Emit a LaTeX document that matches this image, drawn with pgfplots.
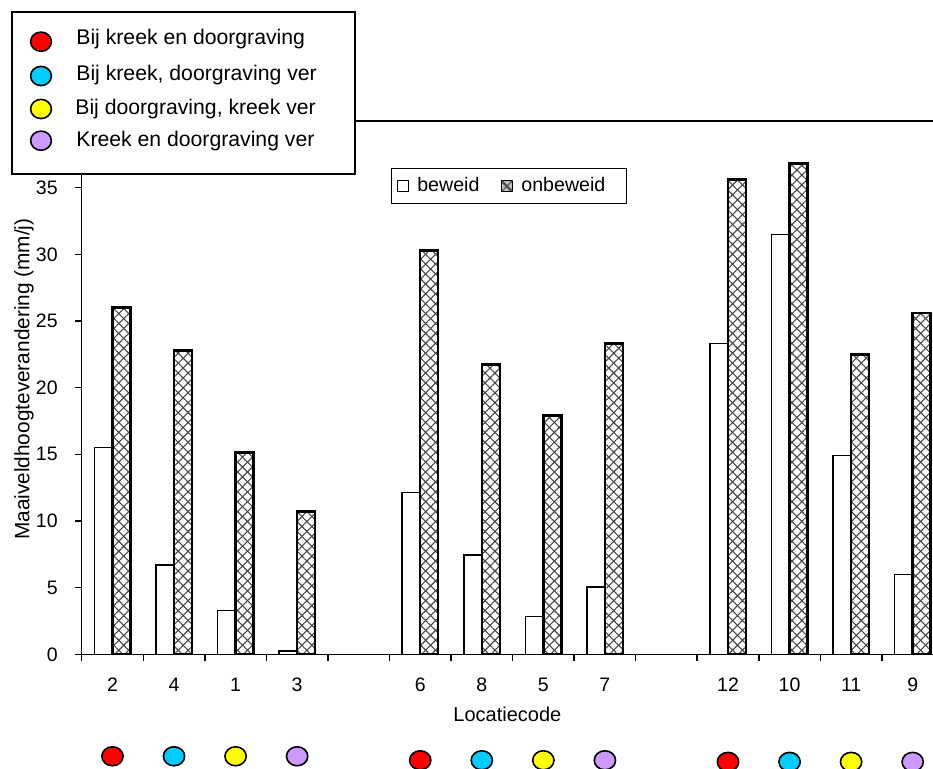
\documentclass[border=0pt]{standalone}
\usepackage{fontspec}
\setmainfont{Liberation Sans}
\usepackage{pgfplots}
\pgfplotsset{compat=1.18}
\usetikzlibrary{patterns.meta}
\definecolor{cRed}{RGB}{255,0,0}
\definecolor{cCyan}{RGB}{0,204,255}
\definecolor{cYellow}{RGB}{255,255,0}
\definecolor{cPurple}{RGB}{204,153,255}
\begin{document}
\begin{tikzpicture}
\begin{axis}[
  at={(0,0)}, anchor=south west,
  scale only axis,
  width=425.65pt, height=266.65pt,
  xmin=-0.5, xmax=13.33, ymin=0, ymax=40,
  axis x line*=bottom, axis y line*=left,
  axis line style={line width=0.75pt, -},
  clip=false,
  xtick={-0.5,0.5,...,12.5},
  xticklabels={},
  extra x ticks={0,1,2,3,5,6,7,8,10,11,12,13},
  extra x tick labels={2,4,1,3,6,8,5,7,12,10,11,9},
  extra x tick style={major tick length=0pt},
  ytick={0,5,...,35},
  major tick length=3.5pt,
  tick align=outside,
  tick style={line width=0.75pt, black},
  /pgf/number format/assume math mode=true,
  tick label style={font=\fontsize{9.75}{11}\selectfont},
  xticklabel style={yshift=-8.5pt},
  yticklabel style={xshift=-5pt},
  every axis x label/.style={at={(axis description cs:0.5,0)}, anchor=base, yshift=-33.85pt, font=\fontsize{10}{12}\selectfont},
  every axis y label/.style={at={(axis description cs:-0.0678,0.516)}, rotate=90, anchor=center, font=\fontsize{10.4}{12}\selectfont},
  xlabel={Locatiecode},
  ylabel={Maaiveldhoogteverandering (mm/j)},
  legend style={at={(0.363,0.9124)}, anchor=north west, legend columns=2, draw=black, line width=0.6pt,
    font=\fontsize{9.8}{11}\selectfont, inner xsep=3pt, inner ysep=2.5pt,
    /tikz/every even column/.append style={column sep=9pt}},
]
\addplot[ybar, bar width=9pt, bar shift=-4.5pt, draw=black, line width=0.75pt, fill=white,
  legend image code/.code={\draw[fill=white, draw=black, line width=0.5pt] (0pt,-2.65pt) rectangle (5.3pt,2.65pt);}]
  coordinates {(0,15.5) (1,6.7) (2,3.3) (3,0.25) (5,12.15) (6,7.45) (7,2.85) (8,5.05) (10,23.3) (11,31.5) (12,14.9) (13,6.0)};
\addlegendentry{\hspace{2.2pt}beweid}
\addplot[ybar, bar width=9pt, bar shift=4.5pt, draw=black, line width=1.2pt,
  pattern={Lines[angle=45,distance=3.5pt,line width=0.55pt]}, pattern color=black!72,
  postaction={pattern={Lines[angle=-45,distance=3.5pt,line width=0.55pt]}, pattern color=black!72},
  legend image code/.code={\draw[draw=black, line width=0.5pt, fill=black!25] (0pt,-2.65pt) rectangle (5.3pt,2.65pt);
     \draw[black!70, line width=0.4pt] (0pt,-2.65pt) -- (5.3pt,2.65pt) (0pt,2.65pt) -- (5.3pt,-2.65pt);}]
  coordinates {(0,26.0) (1,22.8) (2,15.15) (3,10.7) (5,30.3) (6,21.75) (7,17.9) (8,23.3) (10,35.6) (11,36.8) (12,22.5) (13,25.6)};
\addlegendentry{\hspace{2.2pt}onbeweid\hspace*{5.5pt}}
\addplot[only marks, mark=*, mark size=4.75pt, forget plot, mark options={fill=cRed, draw=black, line width=0.8pt, xscale=1.12}]
  coordinates {(0,-7.65) (5,-7.95) (10,-8.07)};
\addplot[only marks, mark=*, mark size=4.75pt, forget plot, mark options={fill=cCyan, draw=black, line width=0.8pt, xscale=1.12}]
  coordinates {(1,-7.65) (6,-7.95) (11,-8.07)};
\addplot[only marks, mark=*, mark size=4.75pt, forget plot, mark options={fill=cYellow, draw=black, line width=0.8pt, xscale=1.12}]
  coordinates {(2,-7.65) (7,-7.95) (12,-8.07)};
\addplot[only marks, mark=*, mark size=4.75pt, forget plot, mark options={fill=cPurple, draw=black, line width=0.8pt, xscale=1.12}]
  coordinates {(3,-7.65) (8,-7.95) (13,-8.07)};
\draw[line width=0.75pt] (rel axis cs:0,1) -- (rel axis cs:1,1);
\end{axis}
% legend box for location classes
\draw[line width=1pt, fill=white] (-34.85pt,240.15pt) rectangle (136.65pt,321.15pt);
\draw[fill=cRed, line width=0.8pt] (-20.35pt,306.3pt) ellipse (5.2pt and 4.8pt);
\draw[fill=cCyan, line width=0.8pt] (-20.35pt,289.15pt) ellipse (5.2pt and 4.8pt);
\draw[fill=cYellow, line width=0.8pt] (-20.35pt,272.65pt) ellipse (5.2pt and 4.8pt);
\draw[fill=cPurple, line width=0.8pt] (-20.35pt,256.8pt) ellipse (5.2pt and 4.8pt);
\begin{scope}[every node/.style={anchor=base west, inner sep=0pt, font=\fontsize{10.6}{12}\selectfont}]
\node at (-2.85pt,304.9pt) {Bij kreek en doorgraving};
\node at (-2.85pt,286.65pt) {Bij kreek, doorgraving ver};
\node at (-3.35pt,269.9pt) {Bij doorgraving, kreek ver};
\node at (-2.85pt,253.65pt) {Kreek en doorgraving ver};
\end{scope}
\pgfresetboundingbox
\useasboundingbox (-40.85pt,-57.35pt) rectangle (425.65pt,327.15pt);
\end{tikzpicture}
\end{document}
